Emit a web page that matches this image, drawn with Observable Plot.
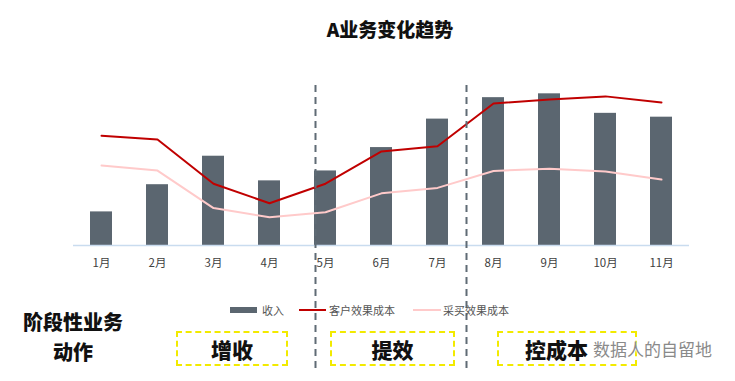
<!DOCTYPE html>
<html><head><meta charset="utf-8">
<script src="https://cdn.jsdelivr.net/npm/d3@7"></script>
<script src="https://cdn.jsdelivr.net/npm/@observablehq/plot@0.6"></script>
<style>
body{margin:0;background:#fff;font-family:"Noto Sans CJK SC","Noto Sans",sans-serif;}
#wrap{position:relative;width:735px;height:381px;overflow:hidden;}
#title{position:absolute;left:290px;width:200px;top:15px;text-align:center;font-weight:900;font-size:19px;color:#111;}
#chart{position:absolute;left:0;top:55px;}
.leg{position:absolute;top:302px;font-size:11px;color:#555;line-height:16px;white-space:nowrap;}
.sw{position:absolute;}
.side{position:absolute;left:12px;width:122px;top:307px;text-align:center;font-weight:900;font-size:20px;line-height:30px;color:#111;}
.box{position:absolute;top:331px;height:31px;border:2px dashed #f2ea00;display:flex;align-items:center;justify-content:center;font-weight:900;font-size:21px;color:#111;}
#wm{position:absolute;left:593px;top:336px;font-size:17px;color:#8a8a8a;text-shadow:0 0 2px #fff,0 0 2px #fff;white-space:nowrap;}
</style></head><body>
<div id="wrap">
<div id="title">A业务变化趋势</div>
<div id="chart"></div>
</div>
<script>
const months = ["1月","2月","3月","4月","5月","6月","7月","8月","9月","10月","11月"];
const revenue = [105,190,279,202,233,306,395,462,474,413,401];
const customerCost = [343,331,193,132,193,294,310,444,456,466,447];
const purchaseCost = [250,234,117,88,104,163,180,233,240,231,206];
const seriesNames = ["收入","客户效果成本","采买效果成本"];
const phaseLabels = ["增收","提效","控成本"];
const phaseStarts = ["5月","8月"];
const sideLabel = ["阶段性业务","动作"];

const rows = months.map((m,i)=>({month:m, revenue:revenue[i], customer:customerCost[i], purchase:purchaseCost[i]}));

const svg = Plot.plot({
  width:735, height:326,
  marginLeft:73, marginRight:46, marginTop:30, marginBottom:136,
  style:{fontFamily:'"Noto Sans CJK SC","Noto Sans",sans-serif', fontSize:"11.5px", color:"#404040", background:"transparent", overflow:"visible"},
  x:{domain:months, paddingInner:0.6, paddingOuter:0.3, tickSize:0, tickPadding:13, label:null},
  y:{domain:[0,500], axis:null},
  marks:[
    Plot.barY(rows,{x:"month", y:"revenue", fill:"#5b6670"}),
    Plot.ruleY([0],{stroke:"#c9dcef", strokeWidth:1.5}),
    Plot.line(rows,{x:"month", y:"purchase", stroke:"#ffcaca", strokeWidth:2}),
    Plot.line(rows,{x:"month", y:"customer", stroke:"#c00000", strokeWidth:2}),
    Plot.ruleX([phaseStarts[0]],{dx:-10, stroke:"#5f6b75", strokeWidth:2, strokeDasharray:"7,5", insetBottom:-125}),
    Plot.ruleX([phaseStarts[1]],{dx:-27, stroke:"#5f6b75", strokeWidth:2, strokeDasharray:"7,5", insetBottom:-125})
  ]
});
const wrap = document.getElementById("wrap");
document.getElementById("chart").appendChild(svg);

function add(html){const d=document.createElement("div");d.innerHTML=html;const el=d.firstChild;wrap.appendChild(el);return el;}
// legend
add(`<div class="sw" style="left:230px;top:307px;width:27px;height:6px;background:#5b6670"></div>`);
add(`<div class="leg" style="left:262px">${seriesNames[0]}</div>`);
add(`<div class="sw" style="left:299px;top:309px;width:27px;height:2px;background:#c00000"></div>`);
add(`<div class="leg" style="left:329px">${seriesNames[1]}</div>`);
add(`<div class="sw" style="left:413px;top:309px;width:28px;height:2px;background:#ffcaca"></div>`);
add(`<div class="leg" style="left:443px">${seriesNames[2]}</div>`);
// bottom row
add(`<div class="side">${sideLabel[0]}<br>${sideLabel[1]}</div>`);
add(`<div class="box" style="left:176px;width:108px">${phaseLabels[0]}</div>`);
add(`<div class="box" style="left:330px;width:121px">${phaseLabels[1]}</div>`);
add(`<div class="box" style="left:497px;width:140px;box-sizing:border-box;height:35px;justify-content:flex-start;padding-left:26px">${phaseLabels[2]}</div>`);
add(`<div id="wm">数据人的自留地</div>`);
</script>
</body></html>
